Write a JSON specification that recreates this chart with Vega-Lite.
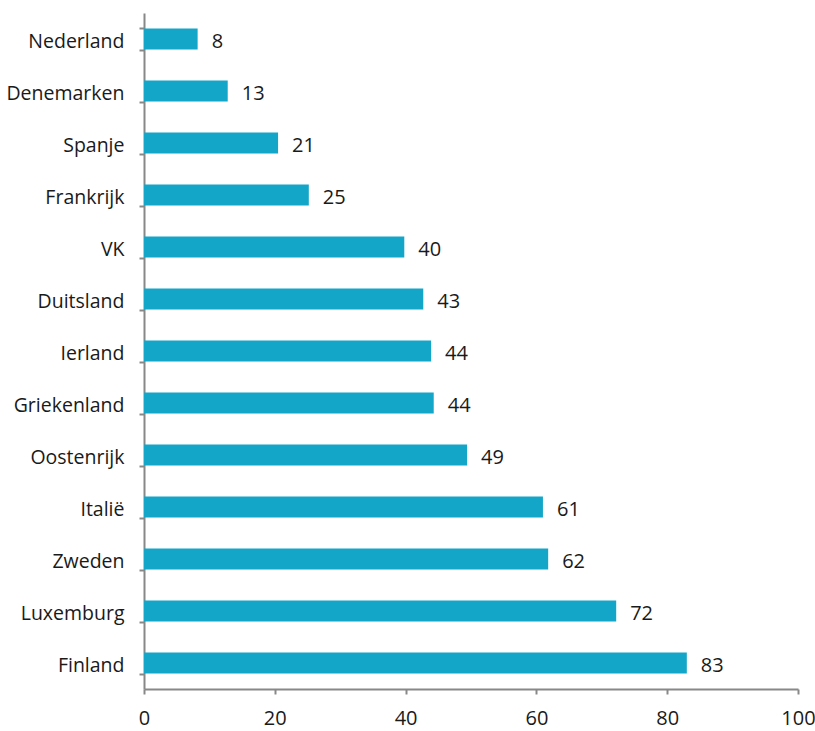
{
  "$schema": "https://vega.github.io/schema/vega-lite/v6.json",
  "width": 654,
  "height": 676,
  "autosize": "none",
  "padding": {"left": 144, "top": 13, "right": 17, "bottom": 42},
  "background": "white",
  "data": {"values": [
    {"land": "Nederland", "waarde": 8.2},
    {"land": "Denemarken", "waarde": 12.8},
    {"land": "Spanje", "waarde": 20.5},
    {"land": "Frankrijk", "waarde": 25.2},
    {"land": "VK", "waarde": 39.8},
    {"land": "Duitsland", "waarde": 42.7},
    {"land": "Ierland", "waarde": 43.9},
    {"land": "Griekenland", "waarde": 44.3},
    {"land": "Oostenrijk", "waarde": 49.4},
    {"land": "Italië", "waarde": 61.0},
    {"land": "Zweden", "waarde": 61.8},
    {"land": "Luxemburg", "waarde": 72.2},
    {"land": "Finland", "waarde": 83.0}
  ]},
  "config": {
    "view": {"stroke": null},
    "font": "Open Sans",
    "axis": {
      "domainColor": "#888888",
      "domainWidth": 2,
      "tickColor": "#888888",
      "tickWidth": 2,
      "tickSize": 5,
      "grid": false,
      "labelFont": "Open Sans",
      "labelColor": "#1a1a1a",
      "title": null
    }
  },
  "encoding": {
    "y": {
      "field": "land", "type": "nominal", "sort": null,
      "scale": {"paddingInner": 0.596, "paddingOuter": 0.298},
      "axis": {"tickBand": "extent", "labelPadding": 15, "labelLimit": 200, "labelFontSize": 19.5, "labelOffset": 2.5}
    },
    "x": {
      "field": "waarde", "type": "quantitative",
      "scale": {"domain": [0, 100], "nice": false},
      "axis": {"values": [0, 20, 40, 60, 80, 100], "labelPadding": 14, "labelFlush": false, "labelFontSize": 20}
    }
  },
  "layer": [
    {"mark": {"type": "bar", "color": "#13A6C8"}},
    {
      "mark": {"type": "text", "align": "left", "dx": 14, "dy": 2.5, "fontSize": 20, "color": "#1a1a1a", "font": "Open Sans"},
      "encoding": {"text": {"field": "waarde", "type": "quantitative", "format": ".0f"}}
    }
  ]
}
